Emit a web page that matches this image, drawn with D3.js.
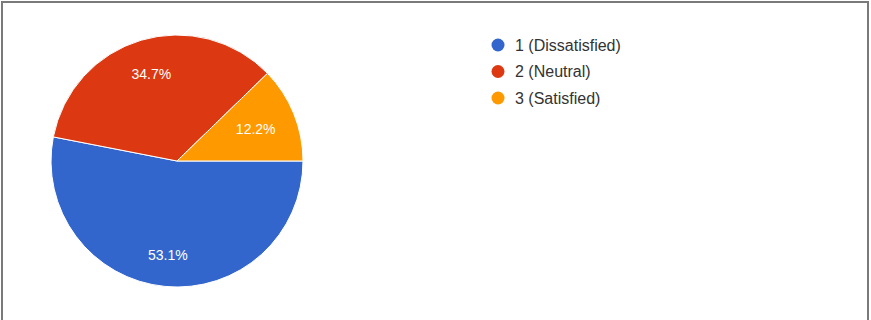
<!DOCTYPE html>
<html>
<head>
<meta charset="utf-8">
<script src="https://cdn.jsdelivr.net/npm/d3@7"></script>
<style>
html,body{margin:0;padding:0;background:#fff;}
svg{display:block;}
</style>
</head>
<body>
<svg id="chart" width="871" height="320"></svg>
<script>
const categories = ["1 (Dissatisfied)", "2 (Neutral)", "3 (Satisfied)"];
const counts = [26, 17, 6];
const colors = ["#3366cc", "#dc3912", "#ff9900"];

const svg = d3.select("#chart");
const W = 871, H = 320;

// frame
svg.append("rect").attr("x",0).attr("y",0).attr("width",W).attr("height",H).attr("fill","#fff");
svg.append("line").attr("x1",1).attr("y1",2).attr("x2",869).attr("y2",2).attr("stroke","#7a7a7a").attr("stroke-width",2);
svg.append("line").attr("x1",2).attr("y1",1).attr("x2",2).attr("y2",H).attr("stroke","#7a7a7a").attr("stroke-width",2);
svg.append("line").attr("x1",868).attr("y1",1).attr("x2",868).attr("y2",H).attr("stroke","#7a7a7a").attr("stroke-width",2);

const cx = 177, cy = 161, r = 126;
const total = d3.sum(counts);
const data = categories.map((c,i)=>({cat:c, value:counts[i], color:colors[i]}));
const pie = d3.pie().value(d=>d.value).sort(null).startAngle(Math.PI/2).endAngle(Math.PI/2 + 2*Math.PI);
const arcs = pie(data);
const arc = d3.arc().innerRadius(0).outerRadius(r);
// label radius grows slightly with slice size
const labelPos = d => {
  const f = d.value/total;
  const lr = r*(0.65 + 0.194*f);
  return d3.arc().innerRadius(lr).outerRadius(lr).centroid(d);
};

const g = svg.append("g").attr("transform",`translate(${cx},${cy})`);
g.selectAll("path").data(arcs).join("path")
  .attr("d", arc).attr("fill", d=>d.data.color)
  .attr("stroke","#fff").attr("stroke-width",1);

g.selectAll("text").data(arcs).join("text")
  .attr("transform", d=>`translate(${labelPos(d)})`)
  .attr("text-anchor","middle").attr("dy","0.35em")
  .attr("fill","#fff")
  .style("font-family","Liberation Sans, Arial, sans-serif")
  .style("font-size","14px")
  .text(d=>(d.value/total*100).toFixed(1)+"%");

const legend = svg.append("g").attr("transform","translate(498,45)");
const rows = legend.selectAll("g").data(data).join("g")
  .attr("transform",(d,i)=>`translate(0,${i*26.5})`);
rows.append("circle").attr("r",6.5).attr("fill",d=>d.color);
rows.append("text").attr("x",17).attr("dy","0.35em")
  .attr("fill","#333")
  .style("font-family","Liberation Sans, Arial, sans-serif")
  .style("font-size","16px")
  .text(d=>d.cat);
</script>
</body>
</html>
